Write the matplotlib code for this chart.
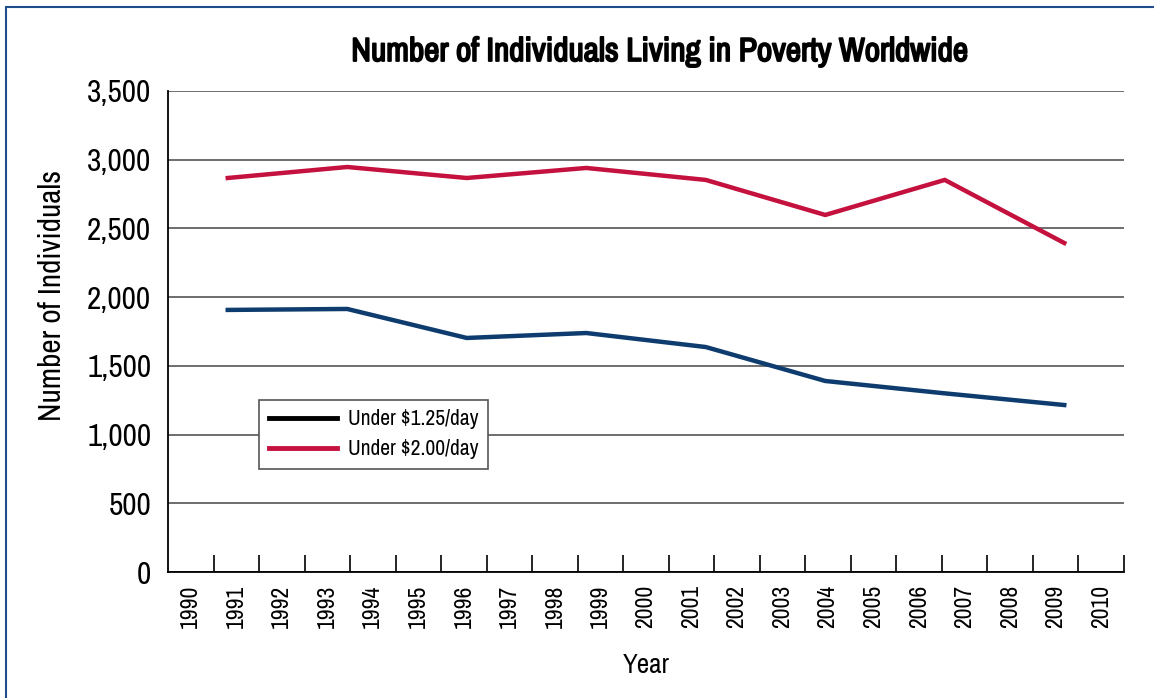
import numpy as np
import matplotlib
matplotlib.use("Agg")
import matplotlib.pyplot as plt
import matplotlib.patheffects as pe
from matplotlib.lines import Line2D
from matplotlib.patches import Rectangle

plt.rcParams['font.family'] = ['Archivo Narrow', 'DejaVu Sans']

# survey years plotted as evenly spaced points
survey_years = [1990, 1993, 1996, 1999, 2002, 2005, 2008, 2010]
under_125 = [1907, 1914, 1703, 1739, 1637, 1390, 1300, 1215]
under_200 = [2867, 2947, 2867, 2940, 2853, 2598, 2853, 2394]

# axis labelling
year_labels = [str(y) for y in range(1990, 2011)]
y_ticks = [0, 500, 1000, 1500, 2000, 2500, 3000, 3500]

navy = '#0e3c6f'
crimson = '#c4113e'

fig = plt.figure(figsize=(11.54, 6.98), dpi=100)
ax = fig.add_axes([168/1154, 1 - 572/698, (1124-168)/1154, (572-91)/698])

x = np.arange(len(survey_years))
ax.plot(x, under_125, color=navy, linewidth=3.2, solid_joinstyle='miter')
ax.plot(x, under_200, color=crimson, linewidth=3.2, solid_joinstyle='miter')

lo, hi = -0.5, len(survey_years) - 0.5
ax.set_xlim(lo, hi)
ax.set_ylim(0, 3500)

# year labels sit between tick marks
step = (hi - lo) / len(year_labels)
bounds = lo + step * np.arange(1, len(year_labels) + 1)
centers = lo + step * (np.arange(len(year_labels)) + 0.5)
ax.set_xticks(bounds)
ax.set_xticklabels([])
ax.tick_params(axis='x', which='major', direction='in', length=12, width=1.2, color='black')
ax.set_xticks(centers, minor=True)
ax.set_xticklabels(year_labels, minor=True, rotation=90, fontsize=17)
ax.tick_params(axis='x', which='minor', length=0, pad=9)

ax.set_yticks(y_ticks)
ax.set_yticklabels([f'{v:,}' for v in y_ticks], fontsize=22.5)
ax.tick_params(axis='y', length=0, pad=12)
ax.yaxis.grid(True, color='#555555', linewidth=1.2)
ax.set_axisbelow(True)

for side in ('top', 'right'):
    ax.spines[side].set_visible(False)
for side in ('left', 'bottom'):
    ax.spines[side].set_color('black')
    ax.spines[side].set_linewidth(1.3)

ax.set_xlabel('Year', fontsize=19.5, labelpad=18)
ax.set_ylabel('Number of Individuals', fontsize=22.5)
ax.yaxis.set_label_coords(-0.107, 0.574)

# heavier title stroke for a bold look
fig.text(660/1154, 1 - 52/698, 'Number of Individuals Living in Poverty Worldwide',
         ha='center', va='center', fontsize=24,
         path_effects=[pe.withStroke(linewidth=1.3, foreground='black')])

handles = [Line2D([], [], color='black', linewidth=3.5),
           Line2D([], [], color=crimson, linewidth=3.5)]
leg = ax.legend(handles, ['Under $1.25/day', 'Under $2.00/day'],
                loc='upper left', bbox_to_anchor=(0.095, 0.358),
                borderaxespad=0, fontsize=15.5, fancybox=False, framealpha=1,
                edgecolor='#555555', handlelength=3.2, borderpad=0.45,
                labelspacing=0.45, handletextpad=0.5)
leg.get_frame().set_linewidth(1.2)

# page frame
fig.patches.append(Rectangle((6/1154, -0.05), 1.2, 1 - 7/698 + 0.05,
                             transform=fig.transFigure, fill=False,
                             edgecolor='#1f4e8c', linewidth=1.5))

fig.savefig('out.png', dpi=100)
